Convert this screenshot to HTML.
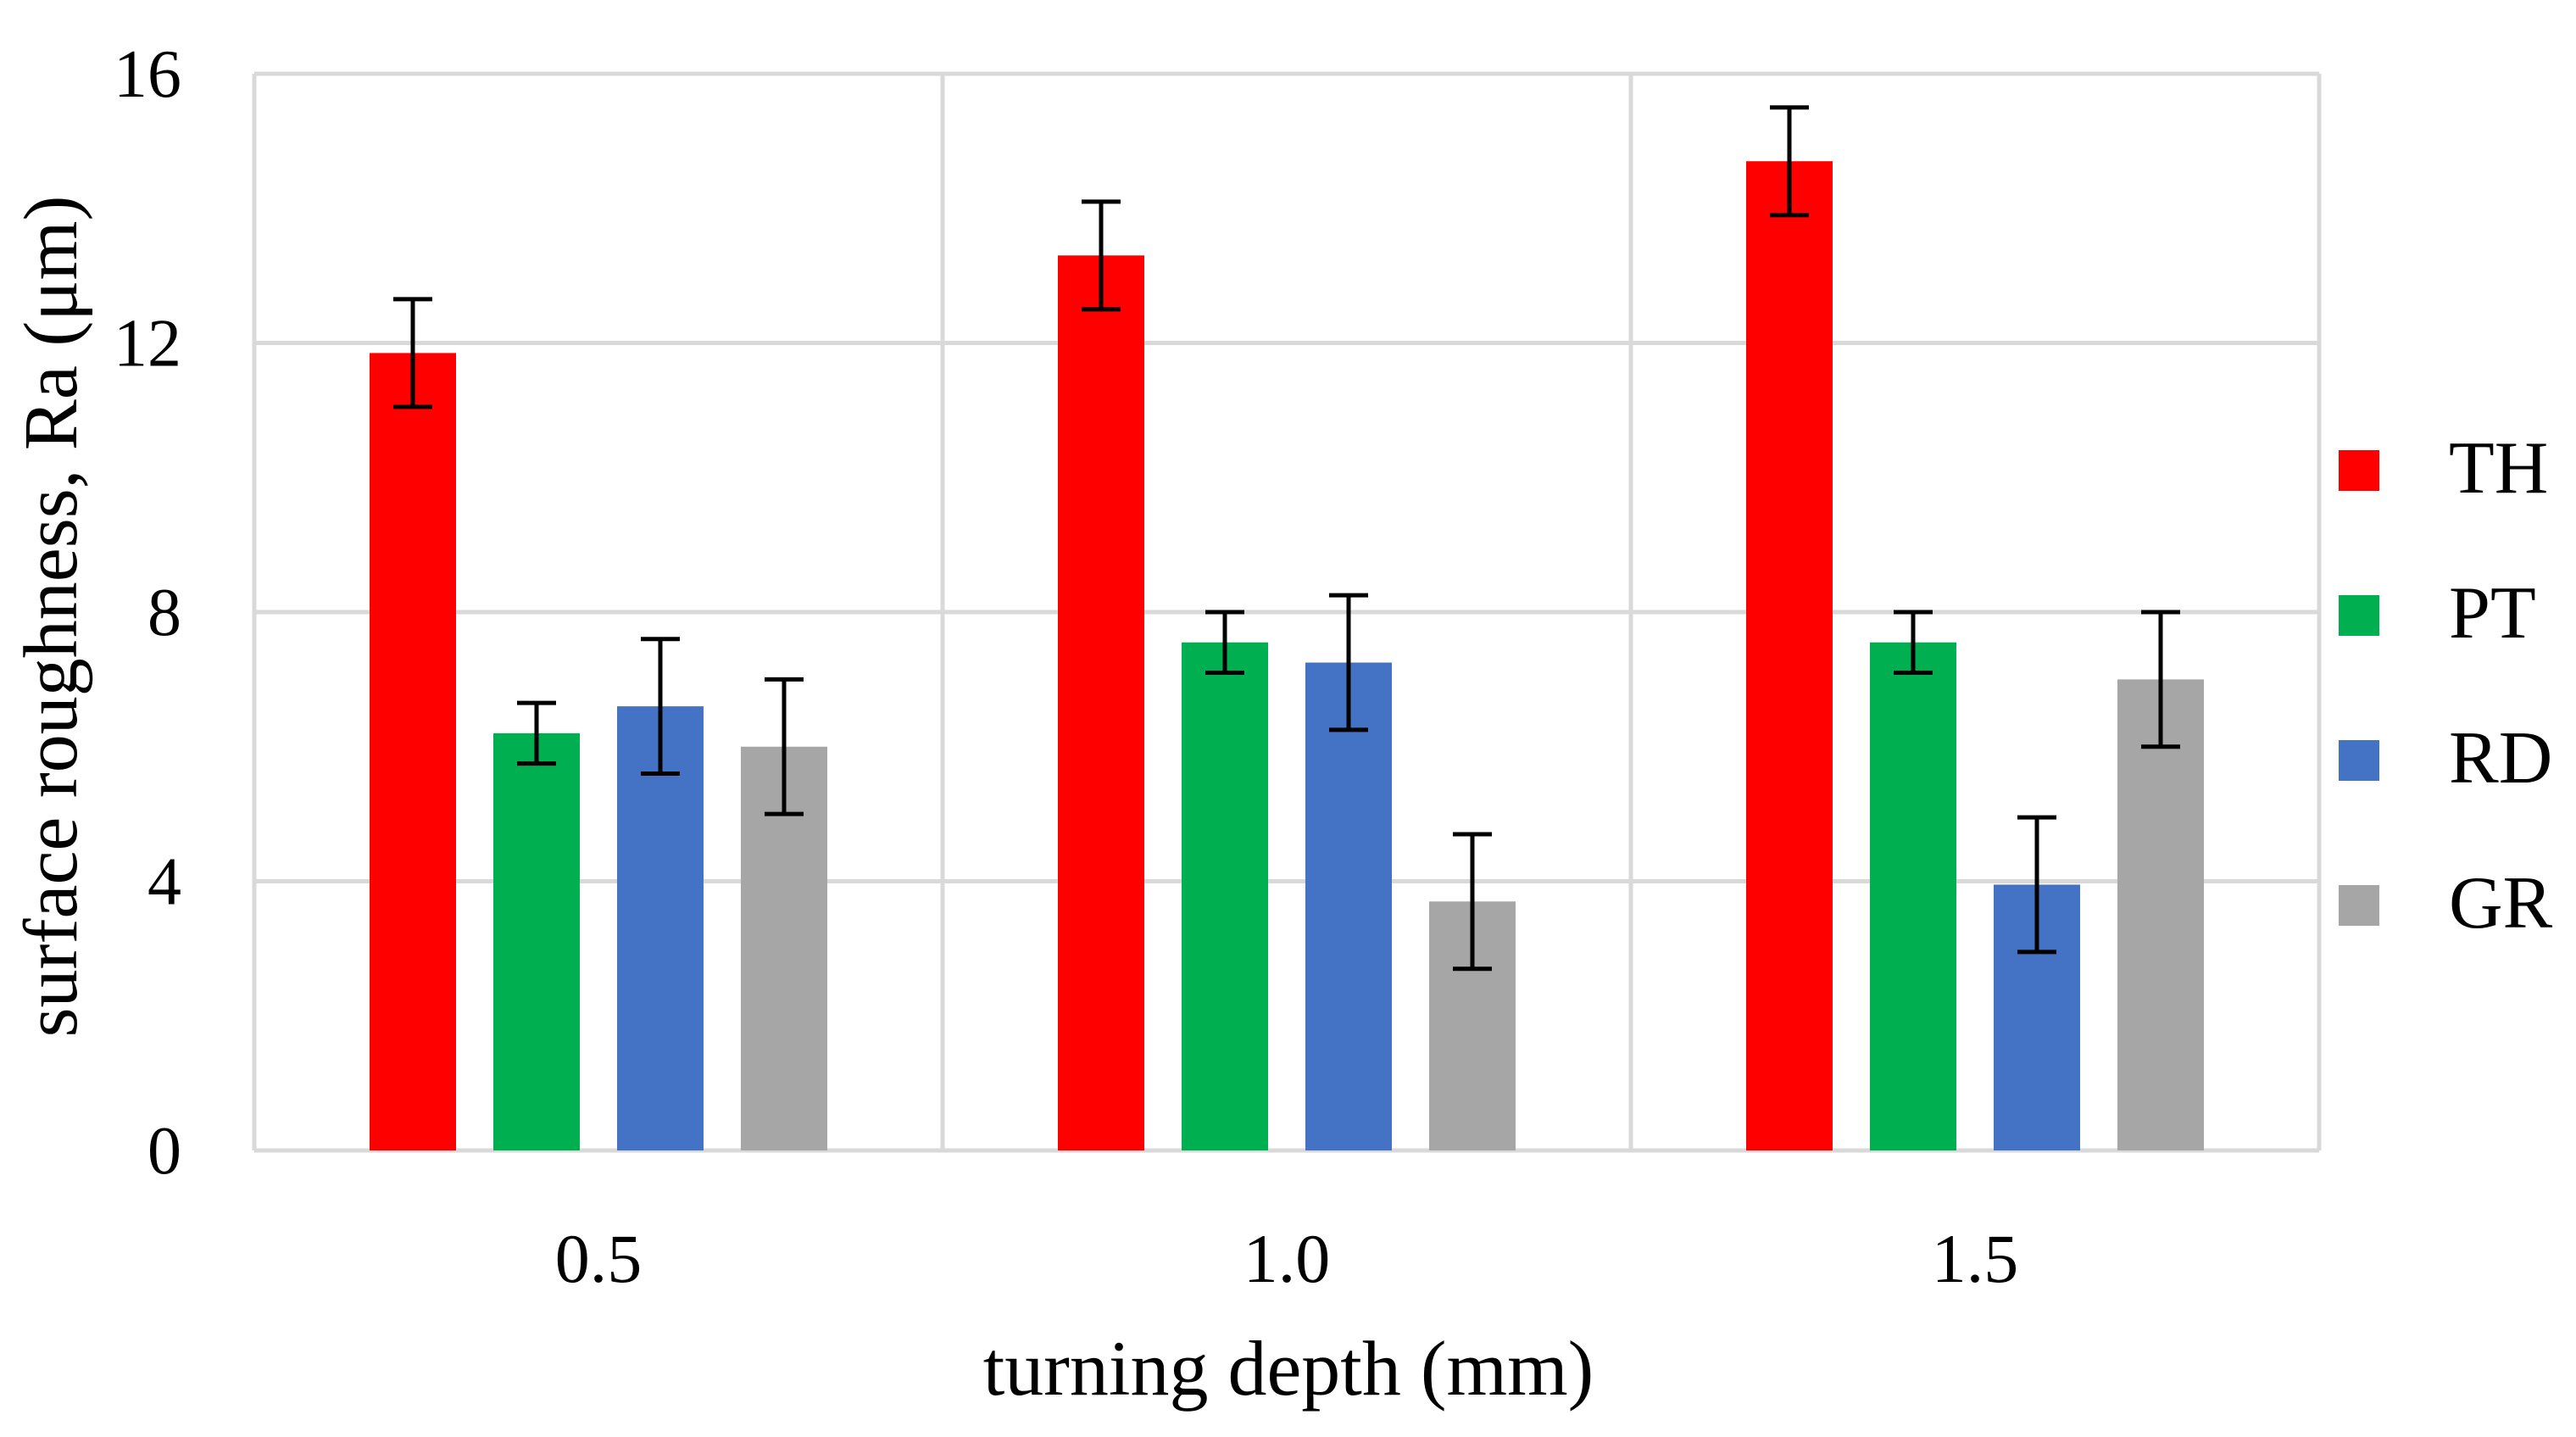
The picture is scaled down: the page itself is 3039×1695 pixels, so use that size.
<!DOCTYPE html>
<html><head><meta charset="utf-8"><style>
html,body{margin:0;padding:0;background:#fff}
svg{display:block}
text{font-family:"Liberation Serif",serif;fill:#000}
</style></head><body>
<svg id="chart" width="3039" height="1695" viewBox="0 0 3039 1695" xmlns="http://www.w3.org/2000/svg">
<g id="grid"></g>
<g id="bars"></g>
<g id="errs"></g>
<g id="yticks"></g>
<g id="xticks"></g>
<text x="0" y="0" transform="translate(90,727) rotate(-90)" text-anchor="middle" font-size="90">surface roughness, Ra (μm)</text>
<text x="1520" y="1645" text-anchor="middle" font-size="92">turning depth (mm)</text>
<g id="legend"></g>
</svg>
<script>
const categories = ["0.5", "1.0", "1.5"];
const seriesNames = ["TH", "PT", "RD", "GR"];
const TH = [11.85, 13.3, 14.7];
const PT = [6.2, 7.55, 7.55];
const RD = [6.6, 7.25, 3.95];
const GR = [6.0, 3.7, 7.0];
const TH_err = [0.8, 0.8, 0.8];
const PT_err = [0.45, 0.45, 0.45];
const RD_err = [1.0, 1.0, 1.0];
const GR_err = [1.0, 1.0, 1.0];
const yTicks = [0, 4, 8, 12, 16];

const colors = ["#ff0000", "#00b050", "#4472c4", "#a6a6a6"];
const series = [TH, PT, RD, GR];
const errs = [TH_err, PT_err, RD_err, GR_err];
const NS = "http://www.w3.org/2000/svg";
const L = 300, R = 2736, T = 87, B = 1357, yMax = 16;
const y = v => B - (v / yMax) * (B - T);
const bandW = (R - L) / categories.length;
const xBand = i => L + i * bandW;
const barW = 102, barGap = 44;
function mk(tag, parent, attrs) { const e = document.createElementNS(NS, tag); for (const k in attrs) e.setAttribute(k, attrs[k]); parent.appendChild(e); return e; }

const grid = document.getElementById('grid');
yTicks.forEach(t => {
  const l = mk('line', grid, {x1: L, x2: R, y1: y(t), y2: y(t), stroke: '#d9d9d9', 'stroke-width': 5});
  
  
});
for (let i = 0; i <= categories.length; i++) {
  const l = mk('line', grid, {x1: xBand(i), x2: xBand(i), y1: T, y2: B, stroke: '#d9d9d9', 'stroke-width': 5});
  
  
}
const yt = document.getElementById('yticks');
yTicks.forEach(t => {
  const e = mk('text', yt, {x: 214, y: y(t) + 27, 'text-anchor': 'end', 'font-size': 80});
  e.textContent = t;
  
  
});
const xt = document.getElementById('xticks');
categories.forEach((c, i) => {
  const e = mk('text', xt, {x: xBand(i) + bandW / 2, y: 1512, 'text-anchor': 'middle', 'font-size': 82});
  e.textContent = c;
  
  
});
const bars = document.getElementById('bars'), eg = document.getElementById('errs');
const groupW = series.length * barW + (series.length - 1) * barGap;
categories.forEach((c, i) => {
  const x0 = xBand(i) + (bandW - groupW) / 2;
  series.forEach((s, j) => {
    const x = x0 + j * (barW + barGap);
    const r = mk('rect', bars, {x: x, y: y(s[i]), width: barW, height: B - y(s[i]), fill: colors[j]});
    
    
    const cx = x + barW / 2, hi = y(s[i] + errs[j][i]), lo = y(s[i] - errs[j][i]);
    const g = mk('g', eg, {stroke: '#000', 'stroke-width': 5});
    
    
    mk('line', g, {x1: cx, x2: cx, y1: hi, y2: lo});
    mk('line', g, {x1: cx - 23, x2: cx + 23, y1: hi, y2: hi});
    mk('line', g, {x1: cx - 23, x2: cx + 23, y1: lo, y2: lo});
  });
});
const lg = document.getElementById('legend');
seriesNames.forEach((n, j) => {
  const yy = 531 + j * 171;
  const g = mk('g', lg, {});
  
  
  mk('rect', g, {x: 2759, y: yy, width: 48, height: 48, fill: colors[j]});
  const t = mk('text', g, {x: 2889, y: yy + 50, 'font-size': 88});
  t.textContent = n;
});
</script>
</body></html>
